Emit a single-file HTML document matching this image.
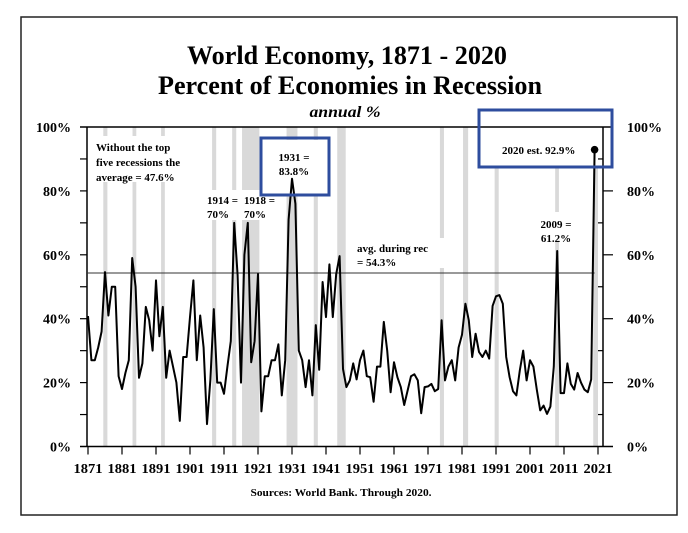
<!DOCTYPE html>
<html><head><meta charset="utf-8"><style>
html,body{margin:0;padding:0;background:#fff;}
svg{display:block;font-family:"Liberation Serif",serif;font-weight:bold;}
</style></head><body>
<svg id="chart" width="688" height="533" viewBox="0 0 688 533">
<rect x="21" y="17" width="656" height="498" fill="#fff" stroke="#222" stroke-width="1.5"/>
<text x="347" y="64" text-anchor="middle" font-size="26" textLength="320" lengthAdjust="spacingAndGlyphs">World Economy, 1871 - 2020</text>
<text x="350" y="94" text-anchor="middle" font-size="26" textLength="384" lengthAdjust="spacingAndGlyphs">Percent of Economies in Recession</text>
<text x="345" y="117" text-anchor="middle" font-size="16" font-style="italic" textLength="71" lengthAdjust="spacingAndGlyphs">annual %</text>
<g id="bands"></g>
<g id="whites"></g>
<g id="axes"></g>
<g id="series"></g>
<g id="annot"></g>
<text x="341" y="496" text-anchor="middle" font-size="10.5" textLength="181" lengthAdjust="spacingAndGlyphs">Sources: World Bank. Through 2020.</text>
</svg>
<script>
const years = [];
for (let y = 1871; y <= 2020; y++) years.push(y);
const values = [
40.8,27,27,31,36,54.6,41,50,50,22,
18,23,27,59,50,21.5,26,43.7,39.5,30,
52,34.5,43.7,21.5,30,25,20,8,28,28,
40.5,52,27,41,31,7,21,43,20,20,
16.5,25,33,70,53.6,20,60,70,26.4,33,
54,11,22,22,27,27,32,16,27,71,
83.8,76,30,27,18.6,27,16,38,24,51.5,
40.5,57,40.5,54,59.6,24.3,18.6,20.7,26,21,
27,30,22,21.7,14,25,25,39,30,17,
26.4,21.7,18.6,13,17.5,22,22.6,20.7,10.4,18.6,
18.8,19.6,17.3,18,39.5,20.7,25,27,20.7,31,
35,44.7,39.5,28,35.3,29.6,28,30,27.5,44,
47,47.4,44.7,28,21.7,17.3,16,23.8,30,20.7,
27,25,17.8,11.3,12.8,10.2,12.5,25,61.2,16.7,
16.7,26,19.6,17.8,23,20,17.8,17,21,92.9
];
const bandStarts = [1875.5,1884.1,1892.5,1907.5,1913.4,1916.3,1929.4,1937.4,1944.3,1974.5,1981.3,1990.6,2008.4,2019.6];
const bandEnds   = [1876.7,1885.2,1893.6,1908.7,1914.6,1921.4,1932.6,1938.6,1946.8,1975.7,1982.8,1991.8,2009.5,2021.0];
const yTicks = [0,20,40,60,80,100];
const yTickLabels = ["0%","20%","40%","60%","80%","100%"];
const xTicks = [1871,1881,1891,1901,1911,1921,1931,1941,1951,1961,1971,1981,1991,2001,2011,2021];
const avgValue = 54.3;

const X0 = 88, PX = 3.4, Y0 = 446.5, PY = 3.195;
const xS = y => X0 + (y - 1871) * PX;
const yS = v => Y0 - v * PY;
const NS = "http://www.w3.org/2000/svg";
function mk(tag, attrs, parent) {
  const e = document.createElementNS(NS, tag);
  for (const k in attrs) e.setAttribute(k, attrs[k]);
  parent.appendChild(e);
  return e;
}
const bands = document.getElementById('bands');
bandStarts.forEach((s, i) => {
  const r = mk('rect', {x: xS(s), y: yS(100), width: xS(bandEnds[i]) - xS(s), height: yS(0) - yS(100), fill: '#d9d9d9'}, bands);
  
  
});
// white backgrounds behind annotation text
const whites = document.getElementById('whites');
[[92,136,110,46],[204,190,68,30],[262,140,66,54],[480,110,131,56],[354,238,90,30],[538,212,40,30]].forEach(b => {
  const r = mk('rect', {x: b[0], y: b[1], width: b[2], height: b[3], fill: '#fff'}, whites);
  
  
});
const axes = document.getElementById('axes');
const L = 87, R = 603;
mk('line', {x1: 80, y1: yS(100), x2: 613, y2: yS(100), stroke: '#000', 'stroke-width': 1.5}, axes);
const xa = mk('line', {x1: 80, y1: yS(0), x2: 613, y2: yS(0), stroke: '#000', 'stroke-width': 1.5}, axes);


const la = mk('line', {x1: L, y1: yS(100), x2: L, y2: yS(0), stroke: '#000', 'stroke-width': 1.5}, axes);


const ra = mk('line', {x1: R, y1: yS(100), x2: R, y2: yS(0), stroke: '#000', 'stroke-width': 1.5}, axes);


for (let v = 10; v < 100; v += 10) {
  mk('line', {x1: 80, y1: yS(v), x2: L, y2: yS(v), stroke: '#000', 'stroke-width': 1.2}, axes);
  if (v % 20 === 0) mk('line', {x1: R, y1: yS(v), x2: 613, y2: yS(v), stroke: '#000', 'stroke-width': 1.2}, axes);
  else mk('line', {x1: 598, y1: yS(v), x2: R, y2: yS(v), stroke: '#000', 'stroke-width': 1.2}, axes);
}
yTicks.forEach((v, i) => {
  const t1 = mk('text', {x: 71, y: yS(v) + 5, 'text-anchor': 'end', 'font-size': 14}, axes);
  t1.textContent = yTickLabels[i];
  
  
  const t2 = mk('text', {x: 627, y: yS(v) + 5, 'text-anchor': 'start', 'font-size': 14}, axes);
  t2.textContent = yTickLabels[i];
  
  
});
xTicks.forEach(yr => {
  mk('line', {x1: xS(yr), y1: yS(0), x2: xS(yr), y2: yS(0) + 8, stroke: '#000', 'stroke-width': 1.2}, axes);
  const t = mk('text', {x: xS(yr), y: 473, 'text-anchor': 'middle', 'font-size': 13.5, textLength: 29, lengthAdjust: 'spacingAndGlyphs'}, axes);
  t.textContent = yr;
  
  
});
const avg = mk('line', {x1: L, y1: yS(avgValue), x2: xS(2020), y2: yS(avgValue), stroke: '#333', 'stroke-width': 1}, axes);



const series = document.getElementById('series');
const pts = years.map((y, i) => xS(y).toFixed(1) + ',' + yS(values[i]).toFixed(1)).join(' ');
const pl = mk('polyline', {points: pts, fill: 'none', stroke: '#000', 'stroke-width': 2, 'stroke-linejoin': 'round'}, series);


const last = values.length - 1;
const dot = mk('circle', {cx: xS(years[last]), cy: yS(values[last]), r: 3.8, fill: '#000'}, series);



const annot = document.getElementById('annot');
const boxes = [[261,138,68,57,'box-1931'],[479,110,133,57,'box-2020']];
boxes.forEach(b => {
  const r = mk('rect', {x: b[0], y: b[1], width: b[2], height: b[3], fill: 'none', stroke: '#2e4d9e', 'stroke-width': 3}, annot);
  
  
});
const notes = [
  [96,151,'start','Without the top','note-line-1'],
  [96,166,'start','five recessions the','note-line-2'],
  [96,181,'start','average = 47.6%','note-line-3'],
  [207,204,'start','1914 =','label-1914'],
  [207,218,'start','70%','label-1914-value'],
  [244,204,'start','1918 =','label-1918'],
  [244,218,'start','70%','label-1918-value'],
  [294,161,'middle','1931 =','label-1931'],
  [294,175,'middle','83.8%','label-1931-value'],
  [357,252,'start','avg. during rec','avg-label'],
  [357,266,'start','= 54.3%','avg-label-value'],
  [556,228,'middle','2009 =','label-2009'],
  [556,242,'middle','61.2%','label-2009-value'],
  [502,154,'start','2020 est. 92.9%','label-2020']
];
notes.forEach(n => {
  const t = mk('text', {x: n[0], y: n[1], 'text-anchor': n[2], 'font-size': 11}, annot);
  t.textContent = n[3];
  
  
});
</script>
</body></html>
